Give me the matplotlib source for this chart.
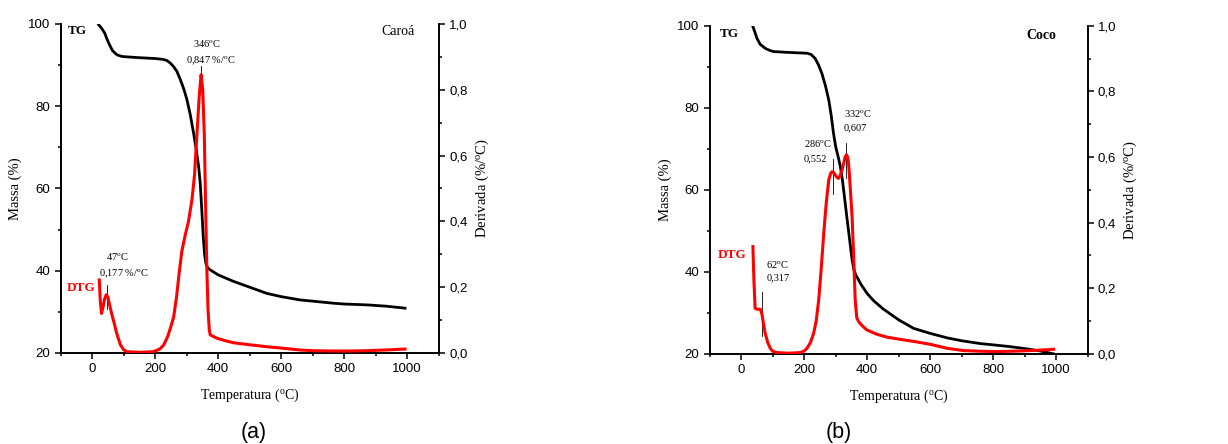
import matplotlib
matplotlib.use("Agg")
import matplotlib.pyplot as plt
from matplotlib.ticker import MultipleLocator, FuncFormatter

plt.rcParams['mathtext.fontset'] = 'custom'
plt.rcParams['mathtext.rm'] = 'Liberation Serif'
plt.rcParams['mathtext.it'] = 'Liberation Serif:italic'
plt.rcParams['mathtext.bf'] = 'Liberation Serif:bold'

SERIF = 'Liberation Serif'
SANS = 'Liberation Sans'

# ---------------- Panel (a): Caroá ----------------
tg_a_T = [21, 30, 40, 47, 55, 65, 79, 95, 111, 150, 200, 225, 238, 248, 258, 269, 280, 291, 301, 312,
          322, 330, 338, 343, 348, 353, 357, 361, 366, 375, 400, 449, 500, 554, 600, 660, 700, 766, 800,
          871, 930, 993]
tg_a_m = [99.8, 99.0, 97.8, 96.4, 95.0, 93.5, 92.5, 92.1, 92.0, 91.8, 91.6, 91.4, 91.1, 90.5, 89.7, 88.5,
          86.5, 84.2, 81.6, 77.8, 73.5, 69.8, 65.4, 61.5, 55.0, 48.0, 44.0, 41.8, 40.8, 40.2, 39.0, 37.4,
          36.0, 34.5, 33.7, 32.9, 32.6, 32.1, 31.9, 31.7, 31.4, 30.9]

dtg_a_T = [23, 26, 30, 35, 40, 45, 50, 56, 62, 69, 78, 90, 100, 111, 150, 195, 215, 227, 240, 250, 259,
           268, 276, 285, 296, 306, 317, 325, 333, 340, 346, 351, 356, 360, 364, 368, 372, 375, 385, 396,
           420, 449, 500, 554, 600, 660, 700, 766, 820, 871, 930, 993]
dtg_a_d = [0.222, 0.160, 0.120, 0.140, 0.165, 0.177, 0.170, 0.145, 0.120, 0.095, 0.060, 0.025, 0.010, 0.004,
           0.002, 0.004, 0.012, 0.024, 0.050, 0.080, 0.110, 0.170, 0.240, 0.310, 0.360, 0.400, 0.466, 0.540,
           0.668, 0.780, 0.846, 0.800, 0.668, 0.460, 0.260, 0.130, 0.070, 0.055, 0.050, 0.045, 0.038, 0.031,
           0.025, 0.019, 0.015, 0.009, 0.007, 0.006, 0.006, 0.007, 0.009, 0.012]

# ---------------- Panel (b): Coco ----------------
tg_b_T = [37, 43, 50, 60, 76, 90, 103, 150, 209, 222, 235, 245, 256, 267, 278, 286, 293, 300, 308, 315,
          322, 329, 336, 344, 352, 358, 364, 370, 380, 399, 420, 450, 500, 548, 600, 654, 700, 760, 800,
          850, 900, 950, 992]
tg_b_m = [99.8, 98.5, 96.9, 95.5, 94.5, 94.0, 93.7, 93.5, 93.3, 93.0, 92.0, 90.5, 88.4, 85.5, 81.9, 78.0,
          73.8, 70.5, 68.0, 65.6, 62.0, 57.5, 53.0, 48.0, 43.0, 40.5, 39.2, 38.4, 37.0, 34.8, 33.0, 31.0,
          28.3, 26.2, 25.0, 23.9, 23.2, 22.5, 22.2, 21.8, 21.3, 20.7, 20.0]

dtg_b_T = [37, 40, 44, 50, 55, 60, 63, 66, 70, 76, 84, 92, 100, 113, 150, 188, 200, 209, 220, 230, 238,
           246, 254, 262, 270, 278, 284, 288, 293, 299, 304, 309, 315, 320, 325, 330, 334, 338, 341, 344,
           348, 352, 357, 362, 367, 373, 385, 399, 430, 463, 500, 548, 601, 654, 706, 760, 812, 860, 918,
           960, 992]
dtg_b_d = [0.327, 0.230, 0.139, 0.136, 0.136, 0.136, 0.130, 0.119, 0.095, 0.063, 0.035, 0.017, 0.008, 0.004,
           0.002, 0.004, 0.009, 0.017, 0.035, 0.063, 0.100, 0.164, 0.260, 0.367, 0.460, 0.530, 0.550, 0.555,
           0.553, 0.545, 0.538, 0.535, 0.545, 0.560, 0.580, 0.600, 0.607, 0.600, 0.580, 0.540, 0.480, 0.418,
           0.300, 0.164, 0.110, 0.098, 0.085, 0.073, 0.060, 0.051, 0.045, 0.038, 0.029, 0.017, 0.010, 0.008,
           0.007, 0.008, 0.010, 0.012, 0.014]

x_ticks = [0, 200, 400, 600, 800, 1000]
mass_ticks = [20, 40, 60, 80, 100]
deriv_ticks = [0.0, 0.2, 0.4, 0.6, 0.8, 1.0]

fig = plt.figure(figsize=(12.28, 4.44), dpi=100)

def deg(s):
    return s.replace('°', r'$^{\mathrm{o}}$')

def setup(ax, ax2):
    ax.set_xlim(-100, 1100)
    ax.set_ylim(20, 100)
    ax2.set_ylim(0, 1.0)
    for a in (ax, ax2):
        a.spines['top'].set_visible(False)
        for s in a.spines.values():
            s.set_linewidth(1.2)
    ax.set_xticks(x_ticks)
    ax.set_yticks(mass_ticks)
    ax.xaxis.set_minor_locator(MultipleLocator(100))
    ax.yaxis.set_minor_locator(MultipleLocator(10))
    ax2.set_yticks(deriv_ticks)
    ax2.yaxis.set_minor_locator(MultipleLocator(0.1))
    ax2.yaxis.set_major_formatter(FuncFormatter(lambda v, p: f"{v:.1f}".replace('.', ',')))
    for a in (ax, ax2):
        a.tick_params(which='major', direction='out', length=4, width=1.1, labelsize=9.5)
        a.tick_params(which='minor', direction='out', length=2.5, width=1.1)
        for lab in a.get_xticklabels() + a.get_yticklabels():
            lab.set_fontfamily(SANS)
    ax.set_xlabel(deg('Temperatura (°C)'), fontfamily=SERIF, fontsize=10, labelpad=8)
    ax.set_ylabel('Massa (%)', fontfamily=SERIF, fontsize=10.5, labelpad=4)
    ax2.set_ylabel(deg('Derivada (%/°C)'), fontfamily=SERIF, fontsize=10.5, labelpad=4)

ANN = 7.5

# Panel (a)
axa = fig.add_axes([0.0493, 0.205, 0.308, 0.741])
axa2 = axa.twinx()
setup(axa, axa2)
axa.plot(tg_a_T, tg_a_m, color='black', lw=2.0, zorder=3, solid_joinstyle='round')
axa2.plot(dtg_a_T, dtg_a_d, color='#ff0000', lw=2.2, zorder=3, solid_joinstyle='round')
axa.text(-78, 98.2, 'TG', fontfamily=SERIF, fontweight='bold', fontsize=9.5, va='center', ha='left')
axa.text(1022, 98.2, 'Caroá', fontfamily=SERIF, fontsize=10, va='center', ha='right')
axa2.text(-35, 0.197, 'DTG', fontfamily=SERIF, fontweight='bold', fontsize=9.5, color='#ff0000', va='center', ha='center')
axa2.text(366, 0.942, deg('346°C'), fontfamily=SERIF, fontsize=ANN, ha='center', va='center')
axa2.text(377, 0.889, deg('0,847 %/°C'), fontfamily=SERIF, fontsize=ANN, ha='center', va='center')
axa2.plot([346, 346], [0.813, 0.871], color='black', lw=0.6)
axa2.text(81, 0.293, deg('47°C'), fontfamily=SERIF, fontsize=ANN, ha='center', va='center')
axa2.text(100, 0.240, deg('0,177 %/°C'), fontfamily=SERIF, fontsize=ANN, ha='center', va='center')
axa2.plot([46, 46], [0.134, 0.207], color='black', lw=0.6)
fig.text(254 / 1228, 1 - 432 / 444, '(a)', fontfamily=SANS, fontsize=15.5, ha='center', va='center')

# Panel (b)
axb = fig.add_axes([0.578, 0.203, 0.3076, 0.739])
axb2 = axb.twinx()
setup(axb, axb2)
axb.plot(tg_b_T, tg_b_m, color='black', lw=2.0, zorder=3, solid_joinstyle='round')
axb2.plot(dtg_b_T, dtg_b_d, color='#ff0000', lw=2.2, zorder=3, solid_joinstyle='round')
axb.text(-69, 98.1, 'TG', fontfamily=SERIF, fontweight='bold', fontsize=9.5, va='center', ha='left')
axb.text(1000, 97.7, 'Coco', fontfamily=SERIF, fontweight='bold', fontsize=10, va='center', ha='right')
axb2.text(-29, 0.300, 'DTG', fontfamily=SERIF, fontweight='bold', fontsize=9.5, color='#ff0000', va='center', ha='center')
axb2.text(325, 0.733, deg('332°C'), fontfamily=SERIF, fontsize=ANN, ha='left', va='center')
axb2.text(325, 0.689, '0,607', fontfamily=SERIF, fontsize=ANN, ha='left', va='center')
axb2.plot([334, 334], [0.535, 0.644], color='black', lw=0.6)
axb2.text(198, 0.640, deg('286°C'), fontfamily=SERIF, fontsize=ANN, ha='left', va='center')
axb2.text(198, 0.594, '0,552', fontfamily=SERIF, fontsize=ANN, ha='left', va='center')
axb2.plot([293, 293], [0.486, 0.593], color='black', lw=0.6)
axb2.text(79, 0.273, deg('62°C'), fontfamily=SERIF, fontsize=ANN, ha='left', va='center')
axb2.text(79, 0.232, '0,317', fontfamily=SERIF, fontsize=ANN, ha='left', va='center')
axb2.plot([65, 65], [0.053, 0.188], color='black', lw=0.6)
fig.text(839 / 1228, 1 - 432 / 444, '(b)', fontfamily=SANS, fontsize=15.5, ha='center', va='center')

fig.savefig('out.png', dpi=100)
